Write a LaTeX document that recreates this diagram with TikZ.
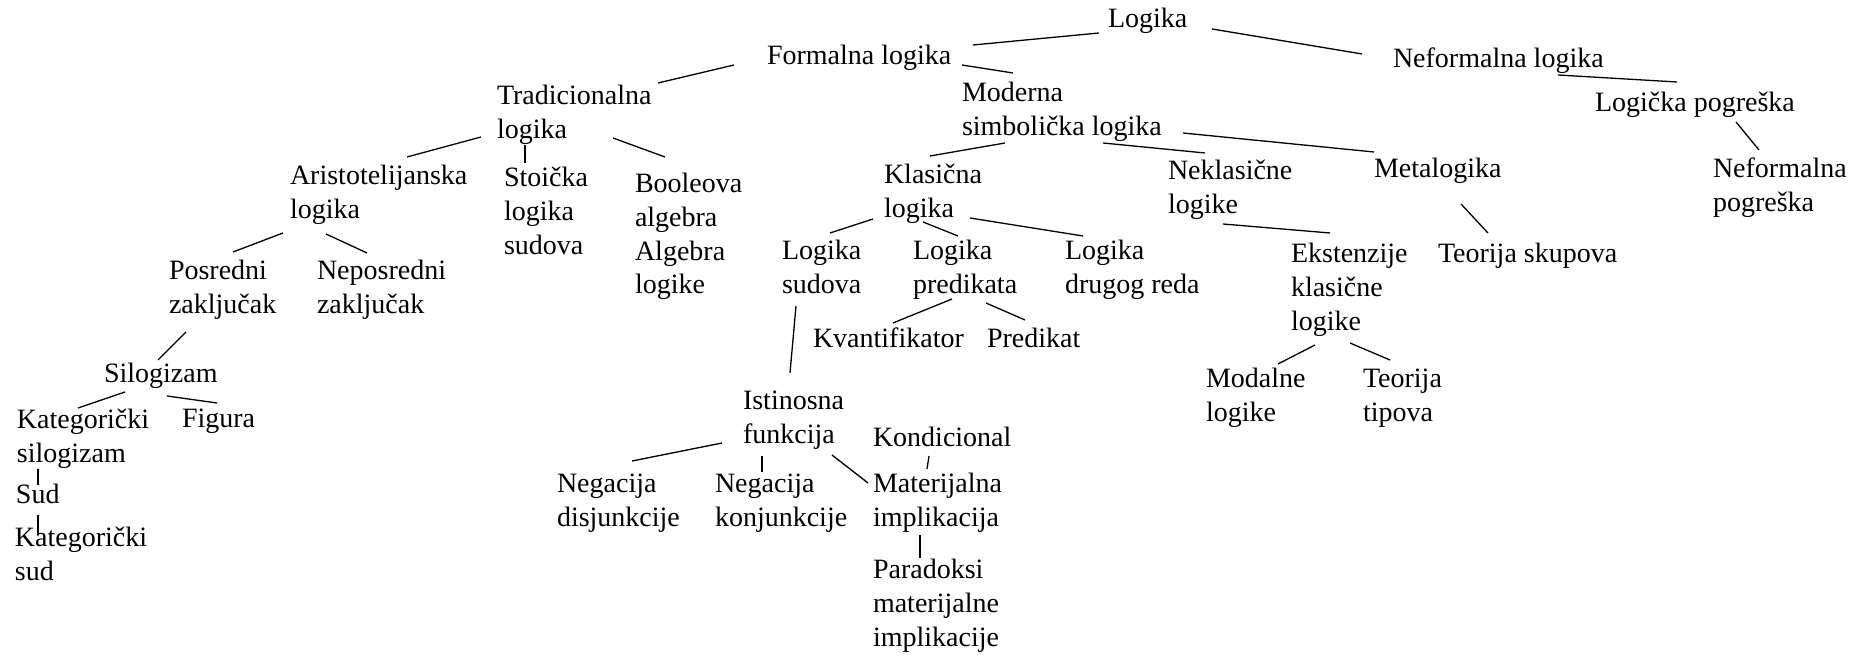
\documentclass[tikz,border=0pt]{standalone}
\usepackage{fontspec}
\setmainfont{Liberation Serif}
\newcommand{\lblfont}{\fontsize{14pt}{16.8pt}\selectfont}
\newcommand{\ml}[1]{\begin{tabular}[t]{@{}l@{}}#1\end{tabular}}
\begin{document}
\begin{tikzpicture}[x=0.5pt,y=-0.5pt,
  lbl/.style={anchor=base west, inner sep=0pt, outer sep=0pt, font=\lblfont},
  conn/.style={draw=black, line width=0.65pt}]
\useasboundingbox (0,0) rectangle (1865,656);
% nodes
\node[lbl] (logika)   at (1108,28)  {Logika};
\node[lbl] (formal)   at (767,65)   {Formalna logika};
\node[lbl] (neformal) at (1393,68)  {Neformalna logika};
\node[lbl] (trad)     at (497,105)  {\ml{Tradicionalna\\logika}};
\node[lbl] (moderna)  at (962,102)  {\ml{Moderna\\simbolička logika}};
\node[lbl] (logpog)   at (1595,112) {Logička pogreška};
\node[lbl] (arist)    at (290,185)  {\ml{Aristotelijanska\\logika}};
\node[lbl] (stoic)    at (504,187)  {\ml{Stoička\\logika\\sudova}};
\node[lbl] (boole)    at (635,193)  {\ml{Booleova\\algebra\\Algebra\\logike}};
\node[lbl] (klas)     at (884,184)  {\ml{Klasična\\logika}};
\node[lbl] (neklas)   at (1168,180) {\ml{Neklasične\\logike}};
\node[lbl] (meta)     at (1374,178) {Metalogika};
\node[lbl] (nefpog)   at (1713,178) {\ml{Neformalna\\pogreška}};
\node[lbl] (lsud)     at (782,260)  {\ml{Logika\\sudova}};
\node[lbl] (lpred)    at (913,260)  {\ml{Logika\\predikata}};
\node[lbl] (ldrug)    at (1065,260) {\ml{Logika\\drugog reda}};
\node[lbl] (teorsk)   at (1438,263) {Teorija skupova};
\node[lbl] (ekst)     at (1291,263) {\ml{Ekstenzije\\klasične\\logike}};
\node[lbl] (posr)     at (169,280)  {\ml{Posredni\\zaključak}};
\node[lbl] (neposr)   at (317,280)  {\ml{Neposredni\\zaključak}};
\node[lbl] (kvant)    at (813,348)  {Kvantifikator};
\node[lbl] (predik)   at (987,348)  {Predikat};
\node[lbl] (silog)    at (104,383)  {Silogizam};
\node[lbl] (katsil)   at (17,429)   {\ml{Kategorički\\silogizam}};
\node[lbl] (figura)   at (182,428)  {Figura};
\node[lbl] (sud)      at (16,504)   {Sud};
\node[lbl] (katsud)   at (15,547)   {\ml{Kategorički\\sud}};
\node[lbl] (istin)    at (743,410)  {\ml{Istinosna\\funkcija}};
\node[lbl] (kondic)   at (873,447)  {Kondicional};
\node[lbl] (negdis)   at (557,493)  {\ml{Negacija\\disjunkcije}};
\node[lbl] (negkon)   at (715,493)  {\ml{Negacija\\konjunkcije}};
\node[lbl] (materij)  at (873,493)  {\ml{Materijalna\\implikacija}};
\node[lbl] (parad)    at (873,579)  {\ml{Paradoksi\\materijalne\\implikacije}};
\node[lbl] (modal)    at (1206,388) {\ml{Modalne\\logike}};
\node[lbl] (teortip)  at (1363,388) {\ml{Teorija\\tipova}};
% connectors
\draw[conn] ([shift={(-9,5)}]logika.base west) -- ([shift={(206,-20)}]formal.base west);
\draw[conn] ([shift={(104,1)}]logika.base west) -- ([shift={(-31,-14)}]neformal.base west);
\draw[conn] ([shift={(-33,0)}]formal.base west) -- ([shift={(161,-22)}]trad.base west);
\draw[conn] ([shift={(195,0)}]formal.base west) -- ([shift={(51,-29)}]moderna.base west);
\draw[conn] ([shift={(165,7)}]neformal.base west) -- ([shift={(82,-30)}]logpog.base west);
\draw[conn] ([shift={(141,10)}]logpog.base west) -- ([shift={(46,-28)}]nefpog.base west);
\draw[conn] ([shift={(-16,32)}]trad.base west) -- ([shift={(117,-28)}]arist.base west);
\draw[conn] ([shift={(28,40)}]trad.base west) -- ([shift={(21,-24)}]stoic.base west);
\draw[conn] ([shift={(116,33)}]trad.base west) -- ([shift={(30,-36)}]boole.base west);
\draw[conn] ([shift={(43,41)}]moderna.base west) -- ([shift={(46,-28)}]klas.base west);
\draw[conn] ([shift={(141,41)}]moderna.base west) -- ([shift={(37,-27)}]neklas.base west);
\draw[conn] ([shift={(221,31)}]moderna.base west) -- ([shift={(0,-26)}]meta.base west);
\draw[conn] ([shift={(87,26)}]meta.base west) -- ([shift={(50,-30)}]teorsk.base west);
\draw[conn] ([shift={(55,44)}]neklas.base west) -- ([shift={(39,-30)}]ekst.base west);
\draw[conn] ([shift={(-11,35)}]klas.base west) -- ([shift={(48,-27)}]lsud.base west);
\draw[conn] ([shift={(39,38)}]klas.base west) -- ([shift={(45,-24)}]lpred.base west);
\draw[conn] ([shift={(86,34)}]klas.base west) -- ([shift={(18,-24)}]ldrug.base west);
\draw[conn] ([shift={(39,39)}]lpred.base west) -- ([shift={(80,-25)}]kvant.base west);
\draw[conn] ([shift={(73,43)}]lpred.base west) -- ([shift={(38,-28)}]predik.base west);
\draw[conn] ([shift={(14,46)}]lsud.base west) -- ([shift={(47,-37)}]istin.base west);
\draw[conn] ([shift={(-21,33)}]istin.base west) -- ([shift={(75,-32)}]negdis.base west);
\draw[conn] ([shift={(19,46)}]istin.base west) -- ([shift={(47,-21)}]negkon.base west);
\draw[conn] ([shift={(89,45)}]istin.base west) -- ([shift={(-5,-10)}]materij.base west);
\draw[conn] ([shift={(56,9)}]kondic.base west) -- ([shift={(54,-24)}]materij.base west);
\draw[conn] ([shift={(47,42)}]materij.base west) -- ([shift={(47,-21)}]parad.base west);
\draw[conn] ([shift={(-7,48)}]arist.base west) -- ([shift={(64,-28)}]posr.base west);
\draw[conn] ([shift={(36,49)}]arist.base west) -- ([shift={(50,-27)}]neposr.base west);
\draw[conn] ([shift={(17,52)}]posr.base west) -- ([shift={(54,-23)}]silog.base west);
\draw[conn] ([shift={(21,9)}]silog.base west) -- ([shift={(61,-21)}]katsil.base west);
\draw[conn] ([shift={(63,13)}]silog.base west) -- ([shift={(35,-25)}]figura.base west);
\draw[conn] ([shift={(21,40)}]katsil.base west) -- ([shift={(22,-19)}]sud.base west);
\draw[conn] ([shift={(22,11)}]sud.base west) -- ([shift={(23,-12)}]katsud.base west);
\draw[conn] ([shift={(24,82)}]ekst.base west) -- ([shift={(72,-24)}]modal.base west);
\draw[conn] ([shift={(59,80)}]ekst.base west) -- ([shift={(27,-28)}]teortip.base west);
\end{tikzpicture}
\end{document}
